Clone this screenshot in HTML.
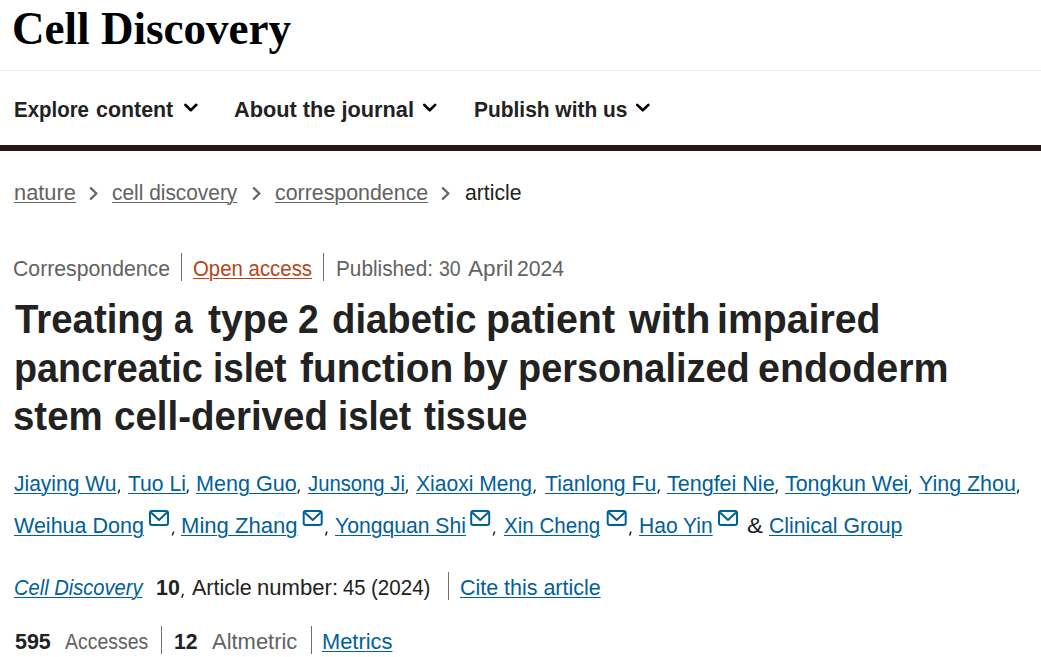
<!DOCTYPE html>
<html><head><meta charset="utf-8"><style>
html,body{margin:0;padding:0;background:#fff;width:1041px;height:657px;overflow:hidden;position:relative}
.s{position:absolute;white-space:pre;line-height:1;transform-origin:0 0;text-decoration-thickness:1px;text-underline-offset:auto}
</style></head><body>
<span class="s" style="left:11.62px;top:5.70px;font-family:'Liberation Serif', serif;font-size:45.5px;font-weight:700;font-style:normal;color:#000000;transform:scaleX(0.9907);">Cell Discovery</span>
<span class="s" style="left:14.19px;top:98.90px;font-family:'Liberation Sans', sans-serif;font-size:22.5px;font-weight:700;font-style:normal;color:#222222;transform:scaleX(0.9085);">Explore</span>
<span class="s" style="left:96.20px;top:98.90px;font-family:'Liberation Sans', sans-serif;font-size:22.5px;font-weight:700;font-style:normal;color:#222222;transform:scaleX(0.9504);">content</span>
<span class="s" style="left:234.20px;top:98.90px;font-family:'Liberation Sans', sans-serif;font-size:22.5px;font-weight:700;font-style:normal;color:#222222;transform:scaleX(0.9666);">About the journal</span>
<span class="s" style="left:474.07px;top:98.90px;font-family:'Liberation Sans', sans-serif;font-size:22.5px;font-weight:700;font-style:normal;color:#222222;transform:scaleX(0.9297);">Publish with us</span>
<span class="s" style="left:13.83px;top:181.70px;font-family:'Liberation Sans', sans-serif;font-size:22.5px;font-weight:400;font-style:normal;color:#626262;text-decoration-line:underline;text-decoration-thickness:1px;text-underline-offset:2px;transform:scaleX(0.9697);">nature</span>
<span class="s" style="left:112.00px;top:181.70px;font-family:'Liberation Sans', sans-serif;font-size:22.5px;font-weight:400;font-style:normal;color:#626262;text-decoration-line:underline;text-decoration-thickness:1px;text-underline-offset:2px;transform:scaleX(0.9279);">cell discovery</span>
<span class="s" style="left:275.30px;top:181.70px;font-family:'Liberation Sans', sans-serif;font-size:22.5px;font-weight:400;font-style:normal;color:#626262;text-decoration-line:underline;text-decoration-thickness:1px;text-underline-offset:2px;transform:scaleX(0.9494);">correspondence</span>
<span class="s" style="left:464.90px;top:181.70px;font-family:'Liberation Sans', sans-serif;font-size:22.5px;font-weight:400;font-style:normal;color:#222222;transform:scaleX(0.9411);">article</span>
<span class="s" style="left:13.46px;top:257.70px;font-family:'Liberation Sans', sans-serif;font-size:22.5px;font-weight:400;font-style:normal;color:#626262;transform:scaleX(0.9439);">Correspondence</span>
<span class="s" style="left:192.79px;top:257.70px;font-family:'Liberation Sans', sans-serif;font-size:22.5px;font-weight:400;font-style:normal;color:#b74616;text-decoration-line:underline;text-decoration-thickness:1px;text-underline-offset:2px;transform:scaleX(0.9064);">Open access</span>
<span class="s" style="left:335.58px;top:257.70px;font-family:'Liberation Sans', sans-serif;font-size:22.5px;font-weight:400;font-style:normal;color:#626262;transform:scaleX(0.9230);">Published:</span>
<span class="s" style="left:439.00px;top:257.70px;font-family:'Liberation Sans', sans-serif;font-size:22.5px;font-weight:400;font-style:normal;color:#626262;transform:scaleX(0.8689);">30</span>
<span class="s" style="left:467.90px;top:257.70px;font-family:'Liberation Sans', sans-serif;font-size:22.5px;font-weight:400;font-style:normal;color:#626262;transform:scaleX(1.0043);">April</span>
<span class="s" style="left:516.96px;top:257.70px;font-family:'Liberation Sans', sans-serif;font-size:22.5px;font-weight:400;font-style:normal;color:#626262;transform:scaleX(0.9415);">2024</span>
<span class="s" style="left:15.00px;top:298.00px;font-family:'Liberation Sans', sans-serif;font-size:41.5px;font-weight:700;font-style:normal;color:#222222;transform:scaleX(0.9241);">Treating</span>
<span class="s" style="left:174.40px;top:298.00px;font-family:'Liberation Sans', sans-serif;font-size:41.5px;font-weight:700;font-style:normal;color:#222222;transform:scaleX(0.8043);">a</span>
<span class="s" style="left:208.00px;top:298.00px;font-family:'Liberation Sans', sans-serif;font-size:41.5px;font-weight:700;font-style:normal;color:#222222;transform:scaleX(0.9448);">type</span>
<span class="s" style="left:297.80px;top:298.00px;font-family:'Liberation Sans', sans-serif;font-size:41.5px;font-weight:700;font-style:normal;color:#222222;transform:scaleX(0.8952);">2</span>
<span class="s" style="left:332.38px;top:298.00px;font-family:'Liberation Sans', sans-serif;font-size:41.5px;font-weight:700;font-style:normal;color:#222222;transform:scaleX(0.9222);">diabetic</span>
<span class="s" style="left:486.20px;top:298.00px;font-family:'Liberation Sans', sans-serif;font-size:41.5px;font-weight:700;font-style:normal;color:#222222;transform:scaleX(0.9485);">patient</span>
<span class="s" style="left:628.58px;top:298.00px;font-family:'Liberation Sans', sans-serif;font-size:41.5px;font-weight:700;font-style:normal;color:#222222;transform:scaleX(0.9813);">with</span>
<span class="s" style="left:717.31px;top:298.00px;font-family:'Liberation Sans', sans-serif;font-size:41.5px;font-weight:700;font-style:normal;color:#222222;transform:scaleX(0.9453);">impaired</span>
<span class="s" style="left:13.98px;top:346.50px;font-family:'Liberation Sans', sans-serif;font-size:41.5px;font-weight:700;font-style:normal;color:#222222;transform:scaleX(0.9090);">pancreatic</span>
<span class="s" style="left:212.93px;top:346.50px;font-family:'Liberation Sans', sans-serif;font-size:41.5px;font-weight:700;font-style:normal;color:#222222;transform:scaleX(0.8865);">islet</span>
<span class="s" style="left:299.60px;top:346.50px;font-family:'Liberation Sans', sans-serif;font-size:41.5px;font-weight:700;font-style:normal;color:#222222;transform:scaleX(0.9361);">function</span>
<span class="s" style="left:462.01px;top:346.50px;font-family:'Liberation Sans', sans-serif;font-size:41.5px;font-weight:700;font-style:normal;color:#222222;transform:scaleX(0.9450);">by</span>
<span class="s" style="left:517.77px;top:346.50px;font-family:'Liberation Sans', sans-serif;font-size:41.5px;font-weight:700;font-style:normal;color:#222222;transform:scaleX(0.9132);">personalized</span>
<span class="s" style="left:758.45px;top:346.50px;font-family:'Liberation Sans', sans-serif;font-size:41.5px;font-weight:700;font-style:normal;color:#222222;transform:scaleX(0.9504);">endoderm</span>
<span class="s" style="left:13.47px;top:394.50px;font-family:'Liberation Sans', sans-serif;font-size:41.5px;font-weight:700;font-style:normal;color:#222222;transform:scaleX(0.9257);">stem</span>
<span class="s" style="left:113.77px;top:394.50px;font-family:'Liberation Sans', sans-serif;font-size:41.5px;font-weight:700;font-style:normal;color:#222222;transform:scaleX(0.9274);">cell-derived</span>
<span class="s" style="left:338.14px;top:394.50px;font-family:'Liberation Sans', sans-serif;font-size:41.5px;font-weight:700;font-style:normal;color:#222222;transform:scaleX(0.8803);">islet</span>
<span class="s" style="left:423.50px;top:394.50px;font-family:'Liberation Sans', sans-serif;font-size:41.5px;font-weight:700;font-style:normal;color:#222222;transform:scaleX(0.8624);">tissue</span>
<span class="s" style="left:14.20px;top:472.60px;font-family:'Liberation Sans', sans-serif;font-size:22.5px;font-weight:400;font-style:normal;color:#00609a;text-decoration-line:underline;text-decoration-thickness:1px;text-underline-offset:2px;transform:scaleX(0.9338);">Jiaying Wu</span>
<span class="s" style="left:127.90px;top:472.60px;font-family:'Liberation Sans', sans-serif;font-size:22.5px;font-weight:400;font-style:normal;color:#00609a;text-decoration-line:underline;text-decoration-thickness:1px;text-underline-offset:2px;transform:scaleX(0.9374);">Tuo Li</span>
<span class="s" style="left:195.64px;top:472.60px;font-family:'Liberation Sans', sans-serif;font-size:22.5px;font-weight:400;font-style:normal;color:#00609a;text-decoration-line:underline;text-decoration-thickness:1px;text-underline-offset:2px;transform:scaleX(0.9580);">Meng Guo</span>
<span class="s" style="left:308.00px;top:472.60px;font-family:'Liberation Sans', sans-serif;font-size:22.5px;font-weight:400;font-style:normal;color:#00609a;text-decoration-line:underline;text-decoration-thickness:1px;text-underline-offset:2px;transform:scaleX(0.9008);">Junsong Ji</span>
<span class="s" style="left:416.20px;top:472.60px;font-family:'Liberation Sans', sans-serif;font-size:22.5px;font-weight:400;font-style:normal;color:#00609a;text-decoration-line:underline;text-decoration-thickness:1px;text-underline-offset:2px;transform:scaleX(0.9367);">Xiaoxi Meng</span>
<span class="s" style="left:545.00px;top:472.60px;font-family:'Liberation Sans', sans-serif;font-size:22.5px;font-weight:400;font-style:normal;color:#00609a;text-decoration-line:underline;text-decoration-thickness:1px;text-underline-offset:2px;transform:scaleX(0.9432);">Tianlong Fu</span>
<span class="s" style="left:666.70px;top:472.60px;font-family:'Liberation Sans', sans-serif;font-size:22.5px;font-weight:400;font-style:normal;color:#00609a;text-decoration-line:underline;text-decoration-thickness:1px;text-underline-offset:2px;transform:scaleX(0.9558);">Tengfei Nie</span>
<span class="s" style="left:784.80px;top:472.60px;font-family:'Liberation Sans', sans-serif;font-size:22.5px;font-weight:400;font-style:normal;color:#00609a;text-decoration-line:underline;text-decoration-thickness:1px;text-underline-offset:2px;transform:scaleX(0.9513);">Tongkun Wei</span>
<span class="s" style="left:918.90px;top:472.60px;font-family:'Liberation Sans', sans-serif;font-size:22.5px;font-weight:400;font-style:normal;color:#00609a;text-decoration-line:underline;text-decoration-thickness:1px;text-underline-offset:2px;transform:scaleX(0.9514);">Ying Zhou</span>
<span class="s" style="left:14.20px;top:514.60px;font-family:'Liberation Sans', sans-serif;font-size:22.5px;font-weight:400;font-style:normal;color:#00609a;text-decoration-line:underline;text-decoration-thickness:1px;text-underline-offset:2px;transform:scaleX(0.9556);">Weihua Dong</span>
<span class="s" style="left:181.22px;top:514.60px;font-family:'Liberation Sans', sans-serif;font-size:22.5px;font-weight:400;font-style:normal;color:#00609a;text-decoration-line:underline;text-decoration-thickness:1px;text-underline-offset:2px;transform:scaleX(0.9804);">Ming Zhang</span>
<span class="s" style="left:335.40px;top:514.60px;font-family:'Liberation Sans', sans-serif;font-size:22.5px;font-weight:400;font-style:normal;color:#00609a;text-decoration-line:underline;text-decoration-thickness:1px;text-underline-offset:2px;transform:scaleX(0.9399);">Yongquan Shi</span>
<span class="s" style="left:504.10px;top:514.60px;font-family:'Liberation Sans', sans-serif;font-size:22.5px;font-weight:400;font-style:normal;color:#00609a;text-decoration-line:underline;text-decoration-thickness:1px;text-underline-offset:2px;transform:scaleX(0.9143);">Xin Cheng</span>
<span class="s" style="left:639.06px;top:514.60px;font-family:'Liberation Sans', sans-serif;font-size:22.5px;font-weight:400;font-style:normal;color:#00609a;text-decoration-line:underline;text-decoration-thickness:1px;text-underline-offset:2px;transform:scaleX(0.9357);">Hao Yin</span>
<span class="s" style="left:768.56px;top:514.60px;font-family:'Liberation Sans', sans-serif;font-size:22.5px;font-weight:400;font-style:normal;color:#00609a;text-decoration-line:underline;text-decoration-thickness:1px;text-underline-offset:2px;transform:scaleX(0.9443);">Clinical Group</span>
<span class="s" style="left:13.91px;top:576.90px;font-family:'Liberation Sans', sans-serif;font-size:22.5px;font-weight:400;font-style:italic;color:#00609a;text-decoration-line:underline;text-decoration-thickness:1px;text-underline-offset:2px;transform:scaleX(0.8933);">Cell Discovery</span>
<span class="s" style="left:156.45px;top:576.90px;font-family:'Liberation Sans', sans-serif;font-size:22.5px;font-weight:700;font-style:normal;color:#222222;transform:scaleX(0.9526);">10</span>
<span class="s" style="left:191.90px;top:576.90px;font-family:'Liberation Sans', sans-serif;font-size:22.5px;font-weight:400;font-style:normal;color:#222222;transform:scaleX(0.9549);">Article</span>
<span class="s" style="left:257.02px;top:576.90px;font-family:'Liberation Sans', sans-serif;font-size:22.5px;font-weight:400;font-style:normal;color:#222222;transform:scaleX(0.9827);">number:</span>
<span class="s" style="left:343.00px;top:576.90px;font-family:'Liberation Sans', sans-serif;font-size:22.5px;font-weight:400;font-style:normal;color:#222222;transform:scaleX(0.8975);">45</span>
<span class="s" style="left:371.49px;top:576.90px;font-family:'Liberation Sans', sans-serif;font-size:22.5px;font-weight:400;font-style:normal;color:#222222;transform:scaleX(0.9143);">(2024)</span>
<span class="s" style="left:747.00px;top:514.60px;font-family:'Liberation Sans', sans-serif;font-size:22.5px;font-weight:400;font-style:normal;color:#222222;transform:scaleX(1.0667);">&</span>
<span class="s" style="left:459.55px;top:576.90px;font-family:'Liberation Sans', sans-serif;font-size:22.5px;font-weight:400;font-style:normal;color:#00609a;text-decoration-line:underline;text-decoration-thickness:1px;text-underline-offset:2px;transform:scaleX(0.9532);">Cite this article</span>
<span class="s" style="left:14.80px;top:630.70px;font-family:'Liberation Sans', sans-serif;font-size:22.5px;font-weight:700;font-style:normal;color:#222222;transform:scaleX(0.9534);">595</span>
<span class="s" style="left:64.60px;top:630.70px;font-family:'Liberation Sans', sans-serif;font-size:22.5px;font-weight:400;font-style:normal;color:#626262;transform:scaleX(0.8643);">Accesses</span>
<span class="s" style="left:173.66px;top:630.70px;font-family:'Liberation Sans', sans-serif;font-size:22.5px;font-weight:700;font-style:normal;color:#222222;transform:scaleX(0.9399);">12</span>
<span class="s" style="left:211.50px;top:630.70px;font-family:'Liberation Sans', sans-serif;font-size:22.5px;font-weight:400;font-style:normal;color:#626262;transform:scaleX(0.9753);">Altmetric</span>
<span class="s" style="left:322.03px;top:630.70px;font-family:'Liberation Sans', sans-serif;font-size:22.5px;font-weight:400;font-style:normal;color:#00609a;text-decoration-line:underline;text-decoration-thickness:1px;text-underline-offset:2px;transform:scaleX(0.9712);">Metrics</span>
<div style="position:absolute;left:0;top:70px;width:1041px;height:1px;background:#eeeeee"></div>
<div style="position:absolute;left:0;top:145px;width:1041px;height:6px;background:#261616"></div>
<svg style="position:absolute;left:0;top:0" width="1041" height="657" viewBox="0 0 1041 657">
 <g fill="none" stroke="#000" stroke-width="2.6" stroke-linecap="round" stroke-linejoin="round">
  <polyline points="185.3,104.8 190.8,110.2 196.3,104.8"/>
  <polyline points="424.2,104.9 429.7,110.3 435.2,104.9"/>
  <polyline points="637.2,104.9 642.8,110.3 648.4,104.9"/>
 </g>
 <g fill="none" stroke="#666" stroke-width="2.3" stroke-linecap="round" stroke-linejoin="round">
  <polyline points="90.8,188.2 96.4,193.5 90.8,198.8"/>
  <polyline points="253.8,188.2 259.4,193.5 253.8,198.8"/>
  <polyline points="442.8,188.2 448.4,193.5 442.8,198.8"/>
 </g>
 <g fill="#6f6f6f">
  <rect x="181" y="253" width="1" height="28"/>
  <rect x="323" y="253" width="1" height="28"/>
  <rect x="448" y="572" width="1" height="28"/>
  <rect x="161" y="626" width="1" height="28"/>
  <rect x="311" y="626" width="1" height="28"/>
 </g>
 <g fill="none" stroke="#00609a" stroke-width="2" stroke-linejoin="round">
  <rect x="150" y="511" width="18" height="14" rx="2"/>
  <path d="M151,512.5 L159,520 L167,512.5"/>
  <rect x="303.7" y="511" width="18" height="14" rx="2"/>
  <path d="M304.7,512.5 L312.7,520 L320.7,512.5"/>
  <rect x="471.2" y="511" width="18" height="14" rx="2"/>
  <path d="M472.2,512.5 L480.2,520 L488.2,512.5"/>
  <rect x="607.7" y="511" width="18" height="14" rx="2"/>
  <path d="M608.7,512.5 L616.7,520 L624.7,512.5"/>
  <rect x="719" y="511" width="18" height="14" rx="2"/>
  <path d="M720,512.5 L728,520 L736,512.5"/>
 </g>
 <g stroke="#222" stroke-width="1.5">
  <line x1="119.6" y1="489.5" x2="118.2" y2="493.5"/>
  <line x1="188.3" y1="489.5" x2="186.9" y2="493.5"/>
  <line x1="299.3" y1="489.5" x2="297.9" y2="493.5"/>
  <line x1="407.5" y1="489.5" x2="406.1" y2="493.5"/>
  <line x1="535.2" y1="489.5" x2="533.8" y2="493.5"/>
  <line x1="659.3" y1="489.5" x2="657.9" y2="493.5"/>
  <line x1="777.3" y1="489.5" x2="775.9" y2="493.5"/>
  <line x1="910.7" y1="489.5" x2="909.3" y2="493.5"/>
  <line x1="1018.7" y1="489.5" x2="1017.3" y2="493.5"/>
  <line x1="173.7" y1="531.5" x2="172.3" y2="535.5"/>
  <line x1="327.0" y1="531.5" x2="325.6" y2="535.5"/>
  <line x1="494.7" y1="531.5" x2="493.3" y2="535.5"/>
  <line x1="631.0" y1="531.5" x2="629.6" y2="535.5"/>
  <line x1="183.2" y1="593.8" x2="181.8" y2="597.8"/>
 </g>
</svg>

</body></html>
